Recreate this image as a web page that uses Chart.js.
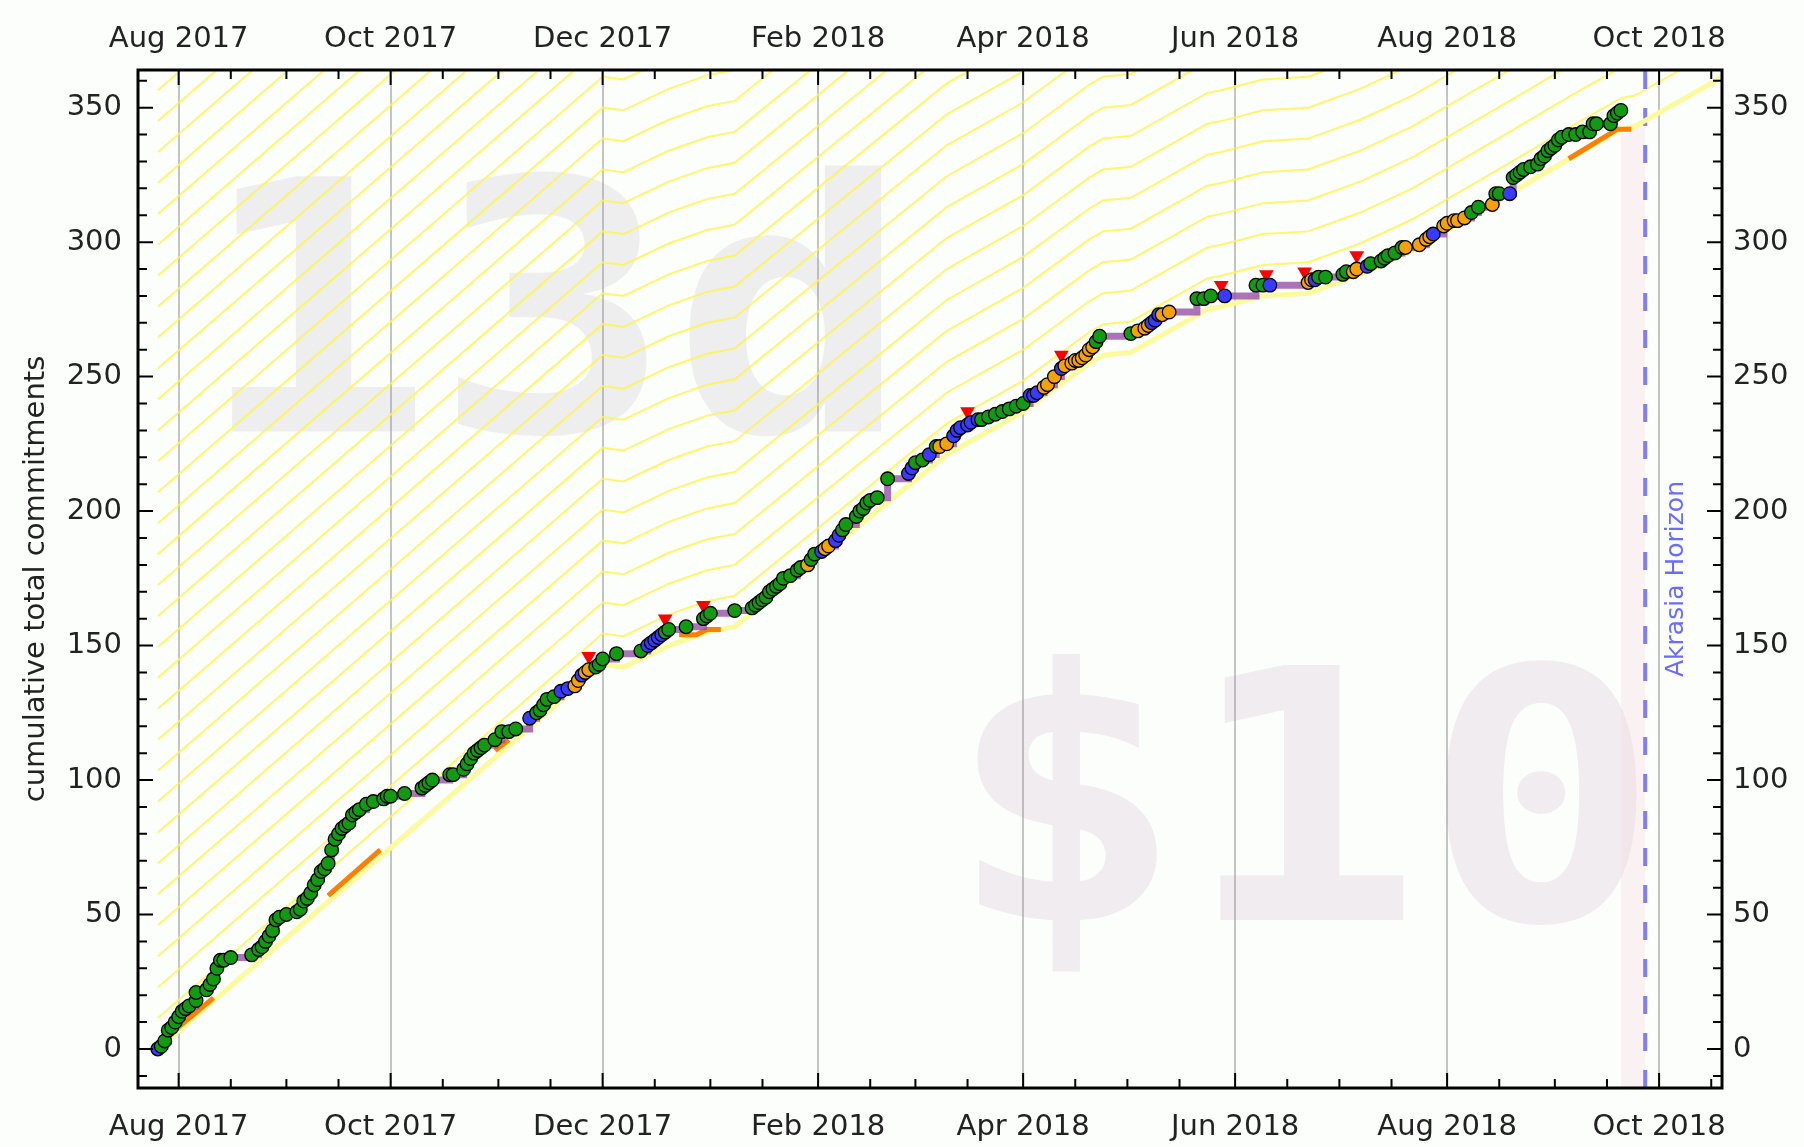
<!DOCTYPE html>
<html>
<head>
<meta charset="utf-8">
<title>Beeminder - cumulative total commitments</title>
<script src="https://cdn.jsdelivr.net/npm/chart.js@4.4.1/dist/chart.umd.min.js"></script>
<style>
  html, body { margin: 0; padding: 0; background: #fbfefb; }
  #wrap { width: 1804px; height: 1147px; }
</style>
</head>
<body>
<div id="wrap"><canvas id="graph" width="1804" height="1147"></canvas></div>
<script>
/* ---------- datapoints: date, cumulative value, colour kind (one line per month) ---------- */
const pointDates = [
  "2017-07-26","2017-07-27","2017-07-28","2017-07-29","2017-07-30","2017-07-31",
  "2017-08-01","2017-08-02","2017-08-03","2017-08-04","2017-08-06","2017-08-06","2017-08-09","2017-08-10","2017-08-11","2017-08-12","2017-08-13","2017-08-14","2017-08-16","2017-08-22","2017-08-24","2017-08-25","2017-08-26","2017-08-27","2017-08-28","2017-08-29","2017-08-30",
  "2017-09-01","2017-09-04","2017-09-05","2017-09-06","2017-09-07","2017-09-08","2017-09-09","2017-09-10","2017-09-11","2017-09-12","2017-09-13","2017-09-14","2017-09-15","2017-09-16","2017-09-17","2017-09-18","2017-09-19","2017-09-20","2017-09-21","2017-09-22","2017-09-24","2017-09-26","2017-09-29","2017-09-30",
  "2017-10-01","2017-10-05","2017-10-10","2017-10-11","2017-10-12","2017-10-13","2017-10-18","2017-10-19","2017-10-22","2017-10-23","2017-10-24","2017-10-25","2017-10-26","2017-10-27","2017-10-28","2017-10-31",
  "2017-11-02","2017-11-04","2017-11-06","2017-11-10","2017-11-12","2017-11-13","2017-11-14","2017-11-15","2017-11-17","2017-11-19","2017-11-21","2017-11-23","2017-11-24","2017-11-25","2017-11-26","2017-11-27","2017-11-29","2017-11-30",
  "2017-12-01","2017-12-05","2017-12-12","2017-12-14","2017-12-15","2017-12-16","2017-12-17","2017-12-18","2017-12-19","2017-12-20","2017-12-25","2017-12-30","2017-12-31",
  "2018-01-01","2018-01-08","2018-01-13","2018-01-14","2018-01-15","2018-01-16","2018-01-17","2018-01-18","2018-01-19","2018-01-20","2018-01-21","2018-01-22","2018-01-24","2018-01-26","2018-01-27","2018-01-29","2018-01-30","2018-01-31",
  "2018-02-02","2018-02-03","2018-02-04","2018-02-06","2018-02-07","2018-02-08","2018-02-09","2018-02-12","2018-02-13","2018-02-14","2018-02-15","2018-02-16","2018-02-18","2018-02-21","2018-02-27","2018-02-28",
  "2018-03-01","2018-03-03","2018-03-05","2018-03-07","2018-03-08","2018-03-10","2018-03-12","2018-03-13","2018-03-14","2018-03-16","2018-03-17","2018-03-19","2018-03-20","2018-03-22","2018-03-24","2018-03-26","2018-03-28","2018-03-30",
  "2018-04-01","2018-04-03","2018-04-04","2018-04-05","2018-04-07","2018-04-08","2018-04-10","2018-04-12","2018-04-13","2018-04-15","2018-04-16","2018-04-17","2018-04-18","2018-04-19","2018-04-20","2018-04-21","2018-04-22","2018-04-23",
  "2018-05-02","2018-05-04","2018-05-06","2018-05-07","2018-05-08","2018-05-09","2018-05-10","2018-05-11","2018-05-13","2018-05-21","2018-05-23","2018-05-25","2018-05-29",
  "2018-06-07","2018-06-09","2018-06-11","2018-06-22","2018-06-23","2018-06-24","2018-06-25","2018-06-27",
  "2018-07-02","2018-07-03","2018-07-05","2018-07-06","2018-07-09","2018-07-10","2018-07-13","2018-07-14","2018-07-15","2018-07-17","2018-07-19","2018-07-20","2018-07-24","2018-07-26","2018-07-27","2018-07-28","2018-07-31",
  "2018-08-01","2018-08-03","2018-08-04","2018-08-06","2018-08-08","2018-08-10","2018-08-14","2018-08-15","2018-08-16","2018-08-19","2018-08-20","2018-08-21","2018-08-22","2018-08-23","2018-08-25","2018-08-27","2018-08-28","2018-08-29","2018-08-30","2018-08-31",
  "2018-09-01","2018-09-02","2018-09-03","2018-09-05","2018-09-07","2018-09-09","2018-09-11","2018-09-12","2018-09-13","2018-09-17","2018-09-18","2018-09-19","2018-09-20"
];
const pointValues = [
  0, 1, 3, 7, 8, 10,
  12, 14, 15, 16, 18, 21, 22, 24, 26, 30, 33, 33, 34, 35, 37, 38, 40, 42, 44, 48, 49,
  50, 51, 52, 55, 56, 58, 61, 63, 66, 67, 69, 74, 78, 80, 82, 83, 84, 87, 88, 89, 91, 92, 93, 94,
  94, 95, 97, 98, 99, 100, 102, 102, 104, 106, 108, 110, 111, 112, 113, 115,
  118, 118, 119, 123, 125, 126, 128, 130, 131, 133, 134, 135, 137, 139, 140, 141, 142, 143,
  145, 147, 148, 150, 151, 152, 153, 154, 155, 156, 157, 160, 161,
  162, 163, 164, 165, 166, 167, 168, 170, 171, 172, 173, 175, 176, 178, 179, 180, 182, 184,
  185, 186, 187, 189, 191, 193, 195, 198, 200, 201, 203, 204, 205, 212, 214, 216,
  218, 219, 221, 224, 224, 225, 228, 230, 231, 232, 233, 234, 234, 235, 236, 237, 238, 239,
  240, 243, 243, 244, 246, 247, 250, 253, 254, 255, 256, 256, 257, 258, 260, 261, 263, 265,
  266, 267, 268, 269, 270, 271, 273, 273, 274, 279, 279, 280, 280,
  284, 284, 284, 285, 286, 286, 287, 287,
  288, 289, 289, 290, 291, 292, 293, 294, 295, 296, 298, 298, 299, 301, 302, 303, 306,
  307, 308, 308, 309, 311, 313, 314, 318, 318, 318, 324, 325, 326, 327, 328, 329, 331, 332, 334, 335,
  336, 338, 339, 340, 340, 341, 341, 344, 344, 344, 347, 348, 349
];
// g = green (safe), b = blue, o = orange (close to the road)
const pointKinds = [
  "b","g","g","g","g","g",
  "g","g","g","g","g","g","g","g","g","g","g","g","g","g","g","g","g","g","g","g","g",
  "g","g","g","g","g","g","g","g","g","g","g","g","g","g","g","g","g","g","g","g","g","g","g","g",
  "g","g","g","g","g","g","g","g","g","g","g","g","g","g","g","g",
  "g","g","g","b","g","g","g","g","g","b","b","o","o","b","o","o","g","g",
  "g","g","g","b","b","b","b","b","g","g","g","g","g",
  "g","g","g","g","g","g","g","g","g","g","g","g","g","g","g","o","g","g",
  "b","o","o","b","b","g","g","g","g","g","g","g","g","g","b","b",
  "g","g","b","g","o","o","b","b","b","b","b","b","g","g","g","g","g","g",
  "g","b","b","b","o","o","o","b","o","o","o","o","o","o","o","o","g","g",
  "g","o","o","o","b","b","b","o","o","g","g","g","b",
  "g","g","b","o","o","b","g","g",
  "g","g","o","o","b","g","g","g","g","g","g","o","o","o","o","b","o",
  "o","o","o","o","g","g","o","g","g","b","g","g","g","g","g","g","g","g","g","g",
  "g","g","g","g","g","g","g","g","g","g","g","g","g"
];

/* ---------- yellow brick road ---------- */
const roadDates = [
  "2017-07-26","2017-12-01","2017-12-07","2017-12-20","2017-12-31","2018-01-08","2018-02-17","2018-03-10",
  "2018-04-01","2018-04-20","2018-04-24","2018-05-02","2018-05-24","2018-05-28","2018-06-09","2018-06-22",
  "2018-07-07","2018-07-22","2018-08-19","2018-09-05","2018-09-20","2018-09-24","2018-10-20"
];
const roadValues = [
  0, 143, 142, 150, 155, 157, 199, 221,
  237, 255, 258, 259, 275, 276, 280, 281,
  288, 297, 318, 331, 342, 343, 362
];
const guideStep = 11.5;   // spacing of the thin guidelines above the road
const guideCount = 32;

/* ---------- orange road segments (null = break) ---------- */
const orangeDates = [
  "2017-07-30","2017-08-11",null,
  "2017-09-13","2017-09-28",null,
  "2017-10-31","2017-11-04",null,
  "2017-12-23","2017-12-28","2017-12-31","2018-01-04",null,
  "2018-07-12","2018-07-21",null,
  "2018-09-05","2018-09-19","2018-09-23"
];
const orangeValues = [
  6, 19, null,
  57, 74, null,
  111, 115, null,
  154, 154, 156, 156, null,
  291, 297, null,
  331, 342, 342
];

/* ---------- red flat-spot markers ---------- */
const flagDates = ["2017-11-27","2017-12-19","2017-12-30","2018-03-16","2018-04-12","2018-05-28","2018-06-10","2018-06-21","2018-07-06"];
const flagValues = [146, 160, 165, 237, 258, 284, 288, 289, 295];

/* ---------- goal info ---------- */
const todayDate = "2018-09-20";
const horizonDate = "2018-09-27";
const todayRoad = [342, 345];
const goalDays = "13d";
const goalPledge = "$10";

/* ---------- axes ---------- */
const xTickDates = ["2017-08-01","2017-10-01","2017-12-01","2018-02-01","2018-04-01","2018-06-01","2018-08-01","2018-10-01"];
const xMinorDates = [
  "2017-07-16","2017-08-16","2017-09-01","2017-09-16","2017-10-16","2017-11-01","2017-11-16","2017-12-16",
  "2018-01-01","2018-01-16","2018-02-16","2018-03-01","2018-03-16","2018-04-16","2018-05-01","2018-05-16",
  "2018-06-16","2018-07-01","2018-07-16","2018-08-16","2018-09-01","2018-09-16","2018-10-16"
];
const yTicks = [0, 50, 100, 150, 200, 250, 300, 350];
const yMinorStep = 10;
const xMin = -11.7, xMax = 444.1;
const yMin = -14.5, yMax = 364;

const monthNames = ["Jan","Feb","Mar","Apr","May","Jun","Jul","Aug","Sep","Oct","Nov","Dec"];
const epoch = Date.UTC(2017, 7, 1);
const dayOf = (s) => {
  const [y, m, d] = s.split("-").map(Number);
  return (Date.UTC(y, m - 1, d) - epoch) / 864e5;
};
const monthLabel = (v) => {
  const d = new Date(epoch + v * 864e5);
  return monthNames[d.getUTCMonth()] + " " + d.getUTCFullYear();
};

const kindColors = { g: "#129a12", b: "#3a3aff", o: "#f5a20a" };
const pts = pointDates.map((s, i) => ({ x: dayOf(s), y: pointValues[i] }));
const road = roadDates.map((s, i) => ({ x: dayOf(s), y: roadValues[i] }));
const orange = orangeDates.map((s, i) => ({ x: s ? dayOf(s) : null, y: orangeValues[i] }));
const flags = flagDates.map((s, i) => ({ x: dayOf(s), y: flagValues[i] }));
const xMajor = xTickDates.map(dayOf);
const xMinor = xMinorDates.map(dayOf);
const todayX = dayOf(todayDate), horizonX = dayOf(horizonDate);

const tickFont = { family: "DejaVu Sans", size: 29 };

/* ---------- datasets ---------- */
const datasets = [
  { label: "points", data: pts, showLine: false, order: 0,
    pointRadius: 6.8, pointBorderWidth: 1.3, pointBorderColor: "#000",
    pointBackgroundColor: pointKinds.map(k => kindColors[k]) },
  { label: "flags", data: flags, showLine: false, order: 1,
    pointStyle: "triangle", rotation: 180, pointRadius: 8.5,
    pointBackgroundColor: "#ff0000", pointBorderWidth: 0 },
  { label: "steps", data: pts, showLine: true, stepped: true, order: 2,
    borderColor: "rgba(150,80,170,0.8)", borderWidth: 7, pointRadius: 0 },
  { label: "orange", data: orange, showLine: true, spanGaps: false, order: 3,
    borderColor: "#ff8000", borderWidth: 5, pointRadius: 0 },
  { label: "road", data: road, showLine: true, order: 4,
    borderColor: "#fbfb9c", borderWidth: 5, pointRadius: 0 },
  { label: "horizon", data: [{ x: horizonX, y: yMin }, { x: horizonX, y: yMax }], showLine: true, order: 5,
    borderColor: "rgba(105,105,240,0.85)", borderWidth: 4, borderDash: [18, 19], pointRadius: 0 },
  { label: "pink", data: [{ x: todayX, y: todayRoad[0] }, { x: horizonX, y: todayRoad[1] }], showLine: true,
    fill: "start", order: 7, backgroundColor: "rgba(250,215,222,0.3)", borderWidth: 0, pointRadius: 0 }
];
for (let k = 1; k <= guideCount; k++) {
  datasets.push({
    label: "guide" + k, showLine: true, order: 6, pointRadius: 0,
    borderColor: "rgba(255,245,70,0.8)", borderWidth: 2,
    data: road.map(p => ({ x: p.x, y: p.y + k * guideStep }))
  });
}

/* ---------- background, watermarks, frame, inward ticks ---------- */
const drawWatermark = (ctx, text, x, y, color) => {
  ctx.save();
  ctx.translate(x, y);
  ctx.scale(1.13, 1);
  ctx.fillStyle = color;
  ctx.fillText(text, 0, 0);
  ctx.restore();
};

const beeminderDeco = {
  id: "beeminderDeco",
  beforeDraw(chart) {
    const { ctx, chartArea: a } = chart;
    ctx.save();
    ctx.fillStyle = "#fbfefb";
    ctx.fillRect(0, 0, chart.width, chart.height);
    ctx.font = 'bold 350px "DejaVu Sans Mono"';
    ctx.textAlign = "center";
    ctx.textBaseline = "alphabetic";
    drawWatermark(ctx, goalDays, a.left + a.width * 0.262, a.top + a.height * 0.355, "#eeeeee");
    drawWatermark(ctx, goalPledge, a.left + a.width * 0.7355, a.top + a.height * 0.835, "#f1ecef");
    ctx.restore();
  },
  afterDraw(chart) {
    const { ctx, chartArea: a } = chart;
    const xs = chart.scales.x, ys = chart.scales.y;
    ctx.save();
    ctx.strokeStyle = "#000";
    ctx.lineWidth = 2;
    ctx.beginPath();
    const xTick = (v, len) => {
      const px = xs.getPixelForValue(v);
      if (px < a.left || px > a.right) return;
      ctx.moveTo(px, a.bottom); ctx.lineTo(px, a.bottom - len);
      ctx.moveTo(px, a.top); ctx.lineTo(px, a.top + len);
    };
    const yTick = (v, len) => {
      const py = ys.getPixelForValue(v);
      if (py < a.top || py > a.bottom) return;
      ctx.moveTo(a.left, py); ctx.lineTo(a.left + len, py);
      ctx.moveTo(a.right, py); ctx.lineTo(a.right - len, py);
    };
    xMajor.forEach(v => xTick(v, 15));
    xMinor.forEach(v => xTick(v, 9));
    for (let v = Math.ceil(yMin / yMinorStep) * yMinorStep; v <= yMax; v += yMinorStep) {
      yTick(v, yTicks.includes(v) ? 15 : 9);
    }
    ctx.stroke();
    ctx.lineWidth = 3;
    ctx.strokeRect(a.left, a.top, a.width, a.height);

    // akrasia horizon label
    const hx = xs.getPixelForValue(horizonX);
    ctx.translate(hx + 31, (a.top + a.bottom) / 2);
    ctx.rotate(-Math.PI / 2);
    ctx.font = '25px "DejaVu Sans"';
    ctx.fillStyle = "#6b6bff";
    ctx.textAlign = "center";
    ctx.textBaseline = "middle";
    ctx.fillText("Akrasia Horizon", 0, 0);
    ctx.restore();
  }
};

const xAxis = (position, height, pad, grid) => ({
  type: "linear", axis: "x", position, min: xMin, max: xMax,
  afterBuildTicks: s => { s.ticks = xMajor.map(v => ({ value: v })); },
  afterFit: s => { s.height = height; },
  ticks: { callback: v => monthLabel(v), font: tickFont, color: "#222", padding: pad, maxRotation: 0, autoSkip: false },
  grid: grid ? { color: "rgba(140,140,140,0.5)", lineWidth: 2, drawTicks: false } : { display: false, drawTicks: false },
  border: { display: false }
});
const yAxis = (position, width, pad, title) => ({
  type: "linear", axis: "y", position, min: yMin, max: yMax,
  afterBuildTicks: s => { s.ticks = yTicks.map(v => ({ value: v })); },
  afterFit: s => { s.width = width; },
  ticks: { font: tickFont, color: "#222", padding: pad },
  grid: { display: false, drawTicks: false },
  border: { display: false },
  title: title ? { display: true, text: "cumulative total commitments", color: "#222",
                   font: { family: "DejaVu Sans", size: 29 }, padding: { top: 19, bottom: 0 } } : { display: false }
});

new Chart(document.getElementById("graph"), {
  type: "scatter",
  data: { datasets },
  plugins: [beeminderDeco],
  options: {
    responsive: false,
    devicePixelRatio: 1,
    animation: false,
    events: [],
    layout: { padding: 0 },
    plugins: { legend: { display: false }, tooltip: { enabled: false } },
    scales: {
      x: xAxis("bottom", 59, 22, true),
      x2: xAxis("top", 70, 13, false),
      y: yAxis("left", 138, 16, true),
      y2: yAxis("right", 82, 11, false)
    }
  }
});
</script>
</body>
</html>
